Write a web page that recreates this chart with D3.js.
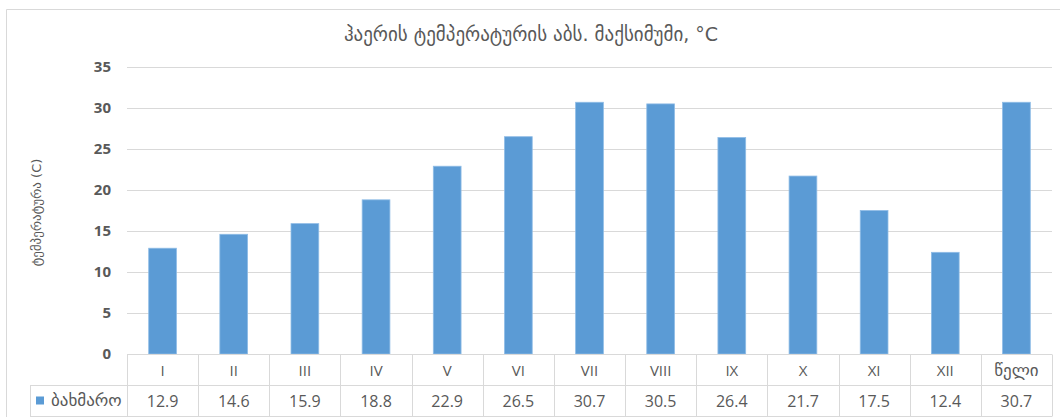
<!DOCTYPE html>
<html>
<head>
<meta charset="utf-8">
<script src="https://cdn.jsdelivr.net/npm/d3@7"></script>
<style>
  html, body { margin: 0; padding: 0; background: #fff; }
  svg { display: block; font-family: "Open Sans", "DejaVu Sans", sans-serif; }
</style>
</head>
<body>
<svg id="chart" width="1060" height="417"></svg>
<script>
// Monthly absolute maximum air temperature, Bakhmaro
const categories = ["I", "II", "III", "IV", "V", "VI", "VII", "VIII", "IX", "X", "XI", "XII", "წელი"];
const values = [12.9, 14.6, 15.9, 18.8, 22.9, 26.5, 30.7, 30.5, 26.4, 21.7, 17.5, 12.4, 30.7];
const yTicks = [0, 5, 10, 15, 20, 25, 30, 35];
const seriesName = "ბახმარო";
const titleText = "ჰაერის ტემპერატურის აბს. მაქსიმუმი, °C";
const yTitle = "ტემპერატურა (C)";

const svg = d3.select("#chart");
const W = 1060, H = 417;
const m = { left: 127, right: 1052, top: 67, bottom: 354 };
const rowH = 31;
const legendLeft = 30;
const gridColor = "#d9d9d9";
const textColor = "#595959";
const barColor = "#5b9bd5";
const geoFont = "'DejaVu Sans', sans-serif";

// chart frame
svg.append("path")
  .attr("d", `M6.5,${H} V9.5 H${W}`)
  .attr("fill", "none").attr("stroke", "#d9d9d9").attr("stroke-width", 1);

const x = d3.scaleBand().domain(categories).range([m.left, m.right]).paddingInner(0).paddingOuter(0);
const y = d3.scaleLinear().domain([0, 35]).range([m.bottom, m.top]);

// horizontal gridlines
svg.append("g").selectAll("line").data(yTicks.filter(d => d > 0)).join("line")
  .attr("x1", m.left).attr("x2", m.right)
  .attr("y1", d => Math.round(y(d)) + 0.5).attr("y2", d => Math.round(y(d)) + 0.5)
  .attr("stroke", gridColor).attr("stroke-width", 1);

// y axis labels
const yAxis = d3.axisLeft(y).tickValues(yTicks).tickSize(0).tickPadding(16);
const yg = svg.append("g").attr("transform", `translate(${m.left},0)`).call(yAxis);
yg.select(".domain").remove();
yg.selectAll("text")
  .attr("fill", textColor).attr("font-size", 15).attr("font-weight", "bold")
  .attr("font-family", "'Open Sans', sans-serif");

// y axis title
svg.append("text")
  .attr("transform", `translate(41,${(m.top + m.bottom) / 2 + 2}) rotate(-90)`)
  .attr("text-anchor", "middle")
  .attr("fill", textColor).attr("font-size", 13)
  .attr("font-family", geoFont)
  .text(yTitle);

// bars
const bw = x.bandwidth() * 0.39;
svg.append("g").selectAll("rect").data(values).join("rect")
  .attr("x", (d, i) => x(categories[i]) + (x.bandwidth() - bw) / 2)
  .attr("y", d => y(d))
  .attr("width", bw)
  .attr("height", d => y(0) - y(d))
  .attr("fill", barColor)
  .attr("stroke", "#8fbce6").attr("stroke-width", 0.8);

// title
svg.append("text")
  .attr("x", 531).attr("y", 41)
  .attr("text-anchor", "middle")
  .attr("fill", textColor).attr("font-size", 19)
  .attr("font-family", geoFont)
  .text(titleText);

// data table
const tg = svg.append("g").attr("stroke", gridColor).attr("stroke-width", 1).attr("fill", "none");
const r0 = m.bottom + 0.5, r1 = m.bottom + rowH + 0.5, r2 = m.bottom + 2 * rowH + 0.5;
tg.append("line").attr("x1", m.left).attr("x2", m.right).attr("y1", r0).attr("y2", r0);
tg.append("line").attr("x1", legendLeft).attr("x2", m.right).attr("y1", r1).attr("y2", r1);
tg.append("line").attr("x1", legendLeft).attr("x2", m.right).attr("y1", r2).attr("y2", r2);
tg.append("line").attr("x1", legendLeft + 0.5).attr("x2", legendLeft + 0.5).attr("y1", r1).attr("y2", r2);
tg.selectAll("line.col").data(categories.concat(["__end"])).join("line")
  .attr("class", "col")
  .attr("x1", (d, i) => Math.round(m.left + i * x.bandwidth()) + 0.5)
  .attr("x2", (d, i) => Math.round(m.left + i * x.bandwidth()) + 0.5)
  .attr("y1", r0).attr("y2", r2);

// category row
const isLatin = d => /^[IVX]+$/.test(d);
svg.append("g").selectAll("text").data(categories).join("text")
  .attr("x", d => x(d) + x.bandwidth() / 2)
  .attr("y", m.bottom + 22)
  .attr("text-anchor", "middle")
  .attr("fill", textColor)
  .attr("font-size", d => isLatin(d) ? 15 : 17)
  .attr("font-family", d => isLatin(d) ? "'Open Sans', sans-serif" : geoFont)
  .text(d => d);

// value row
svg.append("g").selectAll("text").data(values).join("text")
  .attr("x", (d, i) => x(categories[i]) + x.bandwidth() / 2)
  .attr("y", m.bottom + rowH * 1.5 + 6)
  .attr("text-anchor", "middle")
  .attr("fill", textColor).attr("font-size", 16)
  .text(d => d.toFixed(1));

// legend key
svg.append("rect")
  .attr("x", 36).attr("y", m.bottom + rowH * 1.5 - 4)
  .attr("width", 8).attr("height", 8)
  .attr("fill", barColor);
svg.append("text")
  .attr("x", 51).attr("y", m.bottom + rowH * 1.5 + 5)
  .attr("fill", textColor).attr("font-size", 17)
  .attr("font-family", geoFont)
  .text(seriesName);
</script>
</body>
</html>
